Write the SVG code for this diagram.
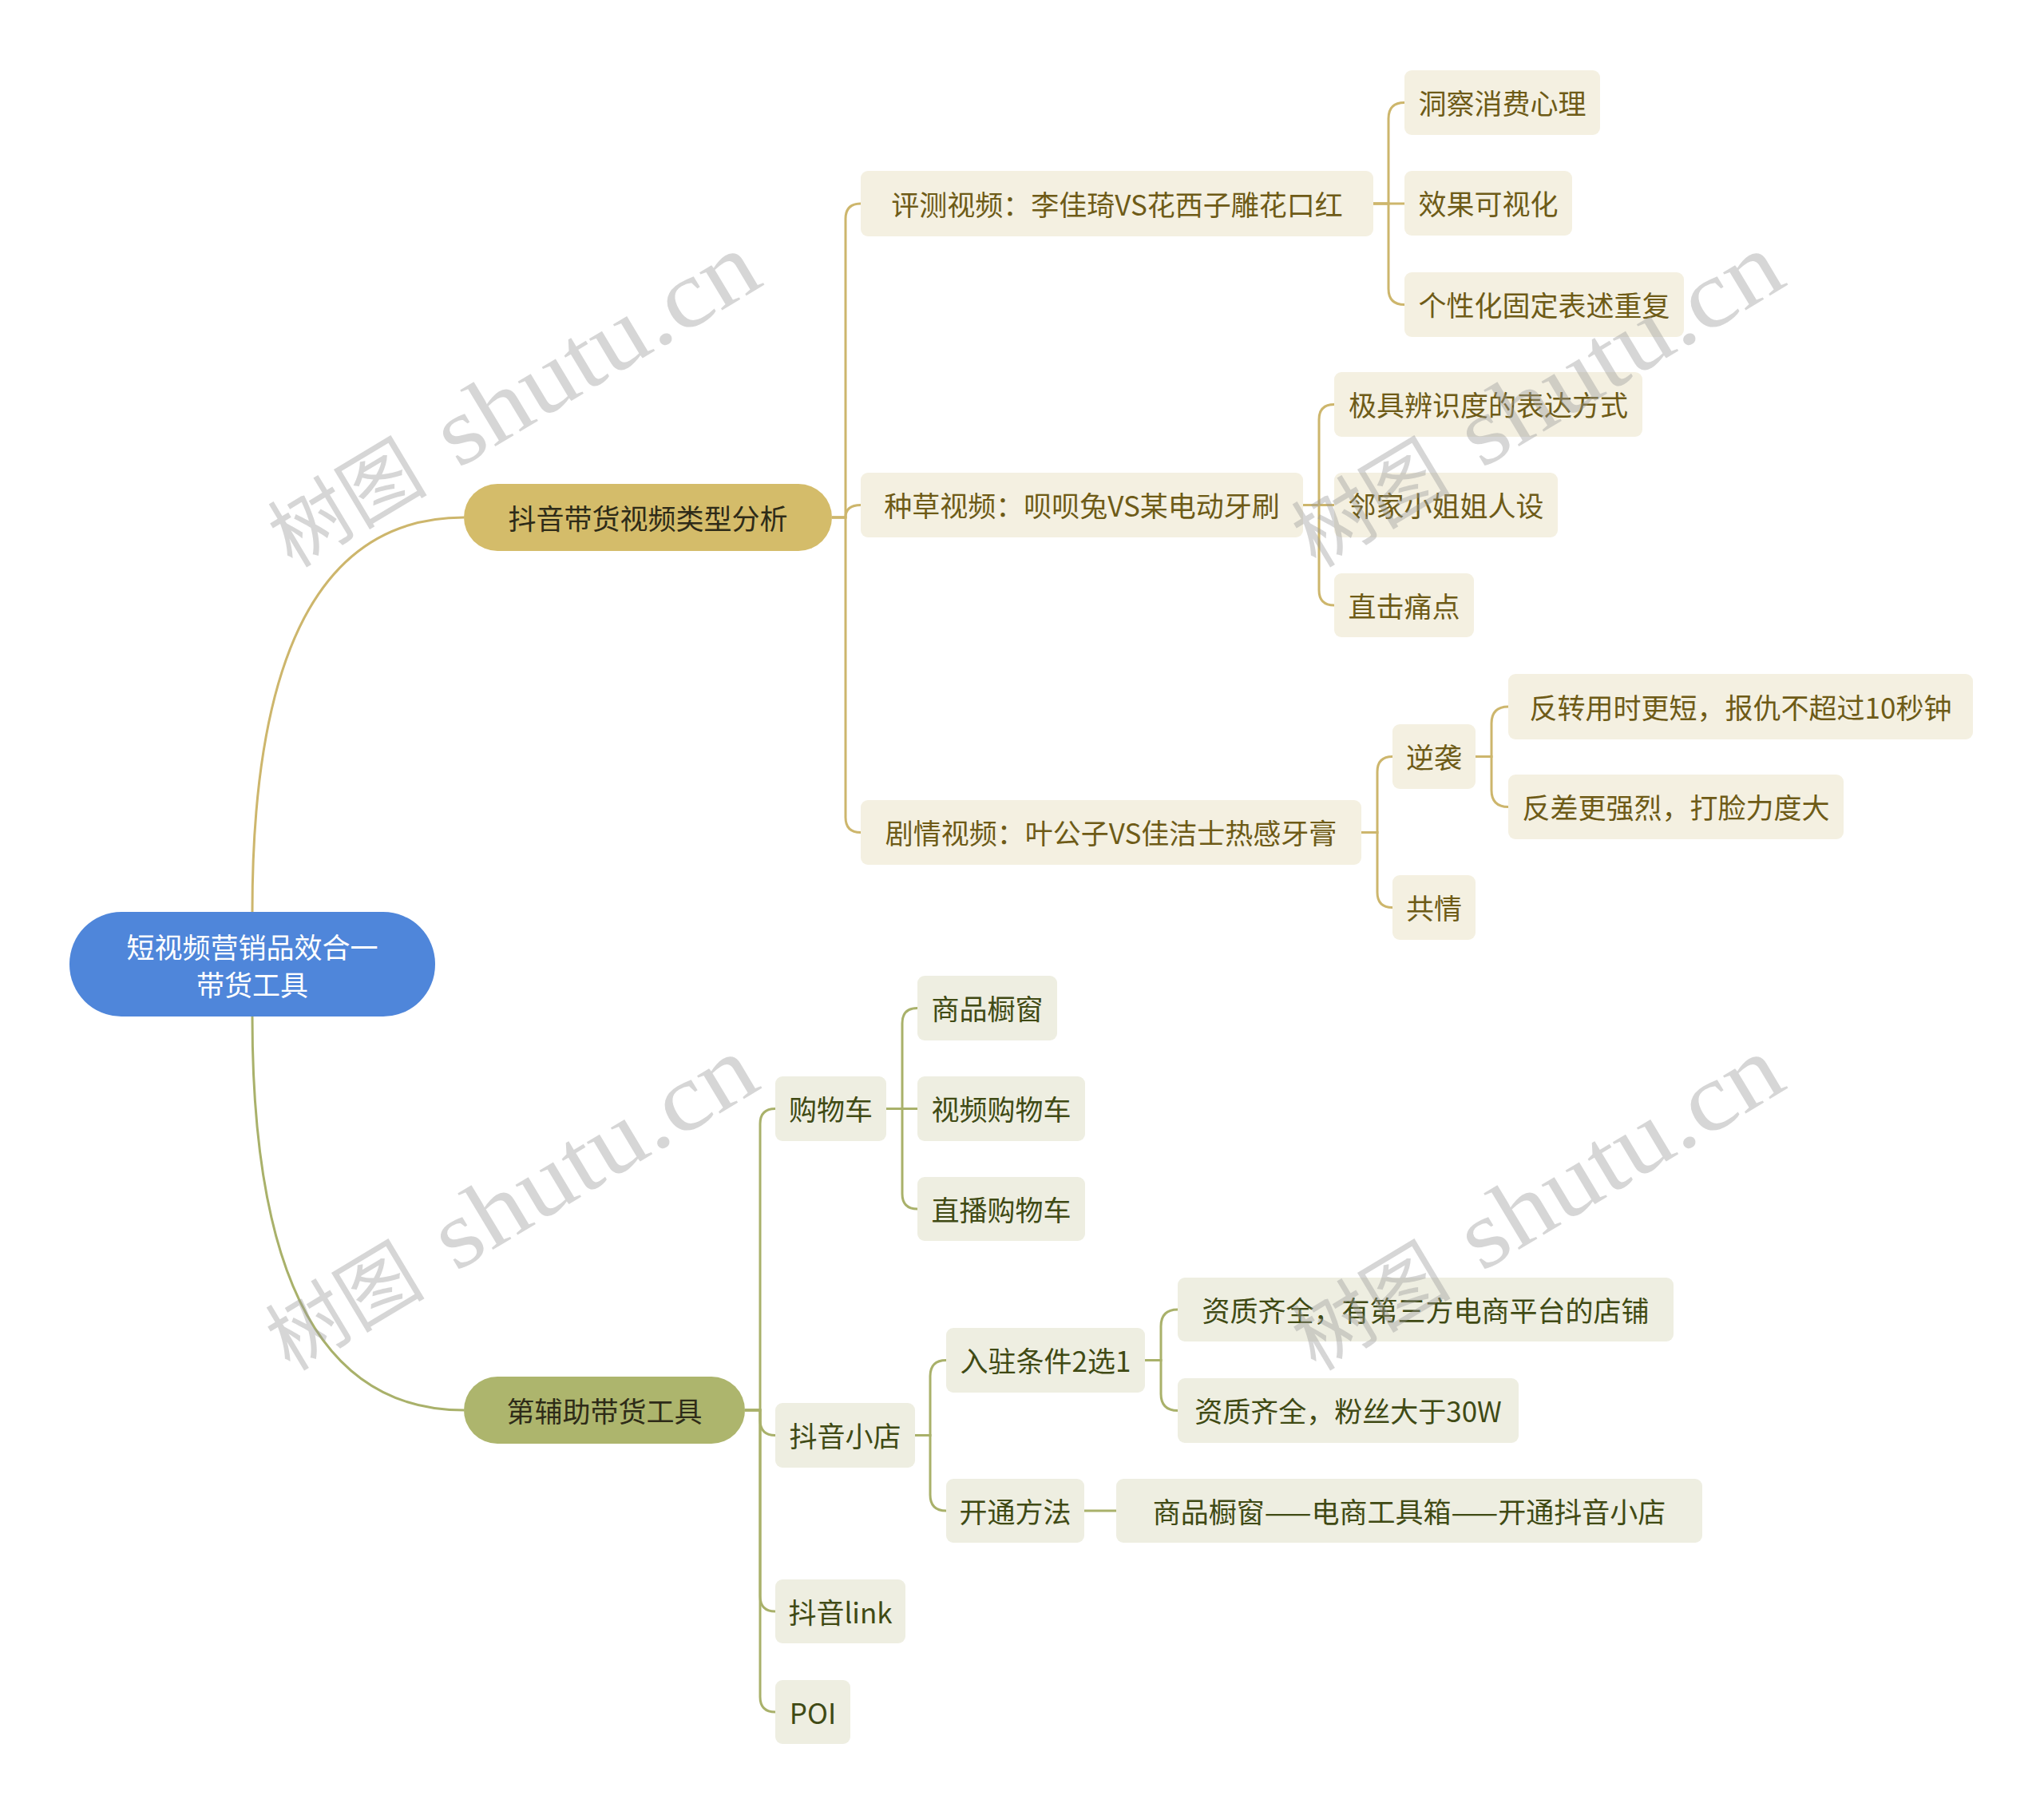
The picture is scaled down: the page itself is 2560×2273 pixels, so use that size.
<svg xmlns="http://www.w3.org/2000/svg" xmlns:xlink="http://www.w3.org/1999/xlink" width="2560" height="2273" viewBox="0 0 2560 2273">
<style>
text{font-family:"Noto Sans CJK SC","Liberation Sans",sans-serif;font-size:35px;dominant-baseline:central;text-anchor:middle}
.root rect{fill:#4F86DA}
.root text{fill:#FFFFFF}
.b1 rect{fill:#D4BC6A}
.b2 rect{fill:#ADB56D}
.b1 text,.b2 text{fill:#2E2B18}
.n1 rect{fill:#F4F0E1}
.n1 text{fill:#6E5B17}
.n2 rect{fill:#EEEEE1}
.n2 text{fill:#404A14}
.c1{fill:none;stroke:#CDB66C;stroke-width:3}
.c2{fill:none;stroke:#A9B16A;stroke-width:3}
text.wm{font-family:"Liberation Serif","Noto Sans CJK SC",serif;fill:#9a9a9a;opacity:0.4;dominant-baseline:alphabetic;text-anchor:start}
text.wmc{font-size:100px}
text.wml{font-size:120px}
</style>
<defs>
<g id="wmark">
<text class="wm wmc" x="0" y="0">树图</text>
<text class="wm wml" x="242" y="0" textLength="450" lengthAdjust="spacingAndGlyphs">shutu.cn</text>
</g>
</defs>
<rect x="0" y="0" width="2560" height="2273" fill="#FFFFFF"/>
<g id="connectors">
<path class="c1" d="M316,1142 Q316,648 581,648"/>
<path class="c2" d="M316,1273 Q316,1766 581,1766"/>
<path class="c1" d="M1042,648 H1059 V274 Q1059,255 1078,255"/>
<path class="c1" d="M1042,648 H1059 Q1059,632.5 1078,632.5"/>
<path class="c1" d="M1042,648 H1059 V1023.5 Q1059,1042.5 1078,1042.5"/>
<path class="c1" d="M1720,255 H1739 V148.5 Q1739,128.5 1759,128.5"/>
<path class="c1" d="M1720,255 H1759"/>
<path class="c1" d="M1720,255 H1739 V361.5 Q1739,381.5 1759,381.5"/>
<path class="c1" d="M1632,632.5 H1652 V525.5 Q1652,506.5 1671,506.5"/>
<path class="c1" d="M1632,632.5 H1671"/>
<path class="c1" d="M1632,632.5 H1652 V739 Q1652,758 1671,758"/>
<path class="c1" d="M1705,1042.5 H1725 V966.5 Q1725,947.5 1744,947.5"/>
<path class="c1" d="M1705,1042.5 H1725 V1117.5 Q1725,1136.5 1744,1136.5"/>
<path class="c1" d="M1848,947.5 H1868 V906 Q1868,885 1889,885"/>
<path class="c1" d="M1848,947.5 H1868 V989.5 Q1868,1010.5 1889,1010.5"/>
<path class="c2" d="M933,1766 H952 V1407.5 Q952,1388.5 971,1388.5"/>
<path class="c2" d="M933,1766 H952 V1778.5 Q952,1797.5 971,1797.5"/>
<path class="c2" d="M933,1766 H952 V1999 Q952,2018 971,2018"/>
<path class="c2" d="M933,1766 H952 V2125 Q952,2144 971,2144"/>
<path class="c2" d="M1110,1388.5 H1130 V1281.5 Q1130,1262.5 1149,1262.5"/>
<path class="c2" d="M1110,1388.5 H1149"/>
<path class="c2" d="M1110,1388.5 H1130 V1495 Q1130,1514 1149,1514"/>
<path class="c2" d="M1146,1797.5 H1165 V1723.5 Q1165,1703.5 1185,1703.5"/>
<path class="c2" d="M1146,1797.5 H1165 V1872 Q1165,1892 1185,1892"/>
<path class="c2" d="M1434,1703.5 H1454 V1661 Q1454,1640 1475,1640"/>
<path class="c2" d="M1434,1703.5 H1454 V1745.5 Q1454,1766.5 1475,1766.5"/>
<path class="c2" d="M1358,1892 H1398"/>
</g>
<g id="root" class="root"><rect x="87" y="1142" width="458" height="131" rx="65"/><text x="316" y="1184">短视频营销品效合一</text><text x="316" y="1231">带货工具</text></g>
<g id="b1" class="b1"><rect x="581" y="606" width="461" height="84" rx="42"/><text x="811.5" y="647">抖音带货视频类型分析</text></g>
<g id="b2" class="b2"><rect x="581" y="1724" width="352" height="84" rx="42"/><text x="757" y="1765">第辅助带货工具</text></g>
<g id="n-pingce" class="n1"><rect x="1078" y="214" width="642" height="82" rx="9"/><text x="1399" y="254">评测视频：李佳琦VS花西子雕花口红</text></g>
<g id="n-dongcha" class="n1"><rect x="1759" y="88" width="245" height="81" rx="9"/><text x="1881.5" y="127.5">洞察消费心理</text></g>
<g id="n-xiaoguo" class="n1"><rect x="1759" y="214" width="210" height="81" rx="9"/><text x="1864" y="253.5">效果可视化</text></g>
<g id="n-gexing" class="n1"><rect x="1759" y="341" width="350" height="81" rx="9"/><text x="1934" y="380.5">个性化固定表述重复</text></g>
<g id="n-zhongcao" class="n1"><rect x="1078" y="592" width="554" height="81" rx="9"/><text x="1355" y="631.5">种草视频：呗呗兔VS某电动牙刷</text></g>
<g id="n-jiju" class="n1"><rect x="1671" y="466" width="386" height="81" rx="9"/><text x="1864" y="505.5">极具辨识度的表达方式</text></g>
<g id="n-linjia" class="n1"><rect x="1671" y="592" width="280" height="81" rx="9"/><text x="1811" y="631.5">邻家小姐姐人设</text></g>
<g id="n-zhiji" class="n1"><rect x="1671" y="718" width="175" height="80" rx="9"/><text x="1758.5" y="757">直击痛点</text></g>
<g id="n-juqing" class="n1"><rect x="1078" y="1002" width="627" height="81" rx="9"/><text x="1391.5" y="1041.5">剧情视频：叶公子VS佳洁士热感牙膏</text></g>
<g id="n-nixi" class="n1"><rect x="1744" y="907" width="104" height="81" rx="9"/><text x="1796" y="946.5">逆袭</text></g>
<g id="n-gongqing" class="n1"><rect x="1744" y="1096" width="104" height="81" rx="9"/><text x="1796" y="1135.5">共情</text></g>
<g id="n-fanzhuan" class="n1"><rect x="1889" y="844" width="582" height="82" rx="9"/><text x="2180" y="884">反转用时更短，报仇不超过10秒钟</text></g>
<g id="n-fancha" class="n1"><rect x="1889" y="970" width="420" height="81" rx="9"/><text x="2099" y="1009.5">反差更强烈，打脸力度大</text></g>
<g id="n-gouwuche" class="n2"><rect x="971" y="1348" width="139" height="81" rx="9"/><text x="1040.5" y="1387.5">购物车</text></g>
<g id="n-chuchuang" class="n2"><rect x="1149" y="1222" width="175" height="81" rx="9"/><text x="1236.5" y="1261.5">商品橱窗</text></g>
<g id="n-shipin" class="n2"><rect x="1149" y="1348" width="210" height="81" rx="9"/><text x="1254" y="1387.5">视频购物车</text></g>
<g id="n-zhibo" class="n2"><rect x="1149" y="1474" width="210" height="80" rx="9"/><text x="1254" y="1513">直播购物车</text></g>
<g id="n-xiaodian" class="n2"><rect x="971" y="1757" width="175" height="81" rx="9"/><text x="1058.5" y="1796.5">抖音小店</text></g>
<g id="n-ruzhu" class="n2"><rect x="1185" y="1663" width="249" height="81" rx="9"/><text x="1309.5" y="1702.5">入驻条件2选1</text></g>
<g id="n-zizhi1" class="n2"><rect x="1475" y="1600" width="621" height="80" rx="9"/><text x="1785.5" y="1639">资质齐全，有第三方电商平台的店铺</text></g>
<g id="n-zizhi2" class="n2"><rect x="1475" y="1726" width="427" height="81" rx="9"/><text x="1688.5" y="1765.5">资质齐全，粉丝大于30W</text></g>
<g id="n-kaitong" class="n2"><rect x="1185" y="1852" width="173" height="80" rx="9"/><text x="1271.5" y="1891">开通方法</text></g>
<g id="n-path" class="n2"><rect x="1398" y="1852" width="734" height="80" rx="9"/><text x="1765" y="1891">商品橱窗——电商工具箱——开通抖音小店</text></g>
<g id="n-link" class="n2"><rect x="971" y="1978" width="163" height="80" rx="9"/><text x="1052.5" y="2017">抖音link</text></g>
<g id="n-poi" class="n2"><rect x="971" y="2104" width="94" height="80" rx="9"/><text x="1018" y="2143">POI</text></g>
<g id="watermarks">
<use xlink:href="#wmark" transform="translate(366,712) rotate(-31)"/>
<use xlink:href="#wmark" transform="translate(1648,712) rotate(-31)"/>
<use xlink:href="#wmark" transform="translate(363,1718) rotate(-31)"/>
<use xlink:href="#wmark" transform="translate(1648,1718) rotate(-31)"/>
</g>
</svg>
